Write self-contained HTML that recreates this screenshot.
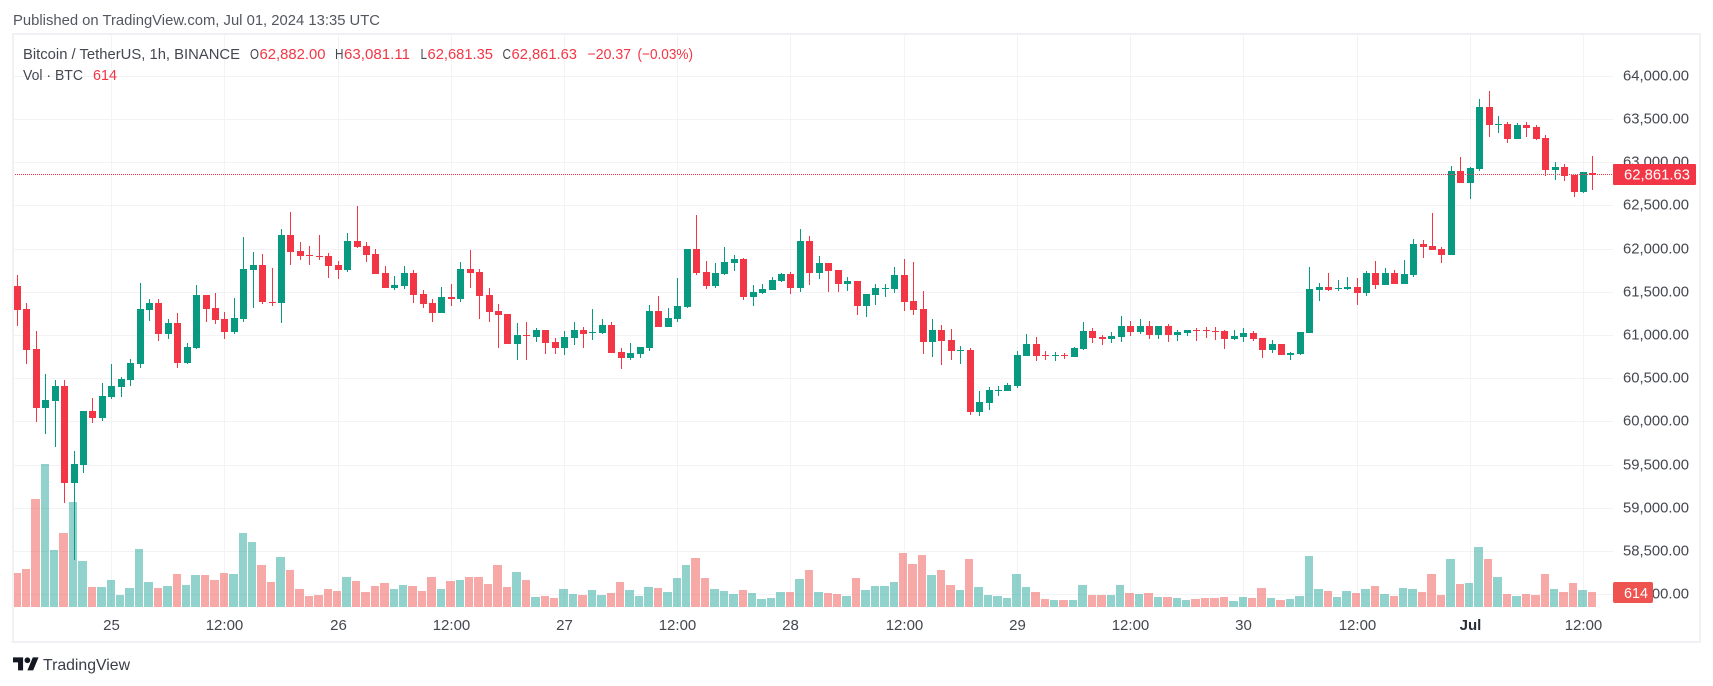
<!DOCTYPE html>
<html lang="en">
<head>
<meta charset="utf-8">
<title>BTC/USDT 1h chart</title>
<style>
html,body{margin:0;padding:0;background:#fff;width:1713px;height:686px;overflow:hidden}
svg{display:block}
text{font-family:"Liberation Sans",sans-serif;font-size:15px;fill:#44474f}
.val{fill:#f23645}
</style>
</head>
<body>
<svg id="chart" xmlns="http://www.w3.org/2000/svg" width="1713" height="686" viewBox="0 0 1713 686">
  <defs><clipPath id="pane-clip"><rect x="13" y="35" width="1600" height="572"/></clipPath></defs>
  <rect x="0" y="0" width="1713" height="686" fill="#fff"/>
  <text x="13" y="25" textLength="367" lengthAdjust="spacingAndGlyphs" style="fill:#54565f">Published on TradingView.com, Jul 01, 2024 13:35 UTC</text>
  <g id="grid"></g>
  <g id="volumes" clip-path="url(#pane-clip)"></g>
  <g id="candles" clip-path="url(#pane-clip)"></g>
  <line id="last-line" x1="13" x2="1613" stroke="#f23645" stroke-width="1" stroke-dasharray="1 1"/>
  <rect x="13" y="34" width="1687" height="608" fill="none" stroke="#f0f0f5" stroke-width="2"/>
  <g id="y-axis"></g>
  <g id="x-axis"></g>
  <g id="tags"></g>
  <g>
    <text x="23" y="59" textLength="217" lengthAdjust="spacingAndGlyphs">Bitcoin / TetherUS, 1h, BINANCE</text>
    <text x="250" y="59" textLength="9" lengthAdjust="spacingAndGlyphs">O</text>
    <text class="val" x="259.5" y="59" textLength="66" lengthAdjust="spacingAndGlyphs">62,882.00</text>
    <text x="335" y="59" textLength="8.5" lengthAdjust="spacingAndGlyphs">H</text>
    <text class="val" x="344" y="59" textLength="66" lengthAdjust="spacingAndGlyphs">63,081.11</text>
    <text x="420.5" y="59" textLength="6.5" lengthAdjust="spacingAndGlyphs">L</text>
    <text class="val" x="427.5" y="59" textLength="65.5" lengthAdjust="spacingAndGlyphs">62,681.35</text>
    <text x="502.5" y="59" textLength="8.5" lengthAdjust="spacingAndGlyphs">C</text>
    <text class="val" x="511.5" y="59" textLength="65.5" lengthAdjust="spacingAndGlyphs">62,861.63</text>
    <text class="val" x="587.5" y="59" textLength="43.5" lengthAdjust="spacingAndGlyphs">−20.37</text>
    <text class="val" x="637.5" y="59" textLength="55.5" lengthAdjust="spacingAndGlyphs">(−0.03%)</text>
    <text x="23" y="80" textLength="60" lengthAdjust="spacingAndGlyphs">Vol · BTC</text>
    <text class="val" x="93" y="80" textLength="24" lengthAdjust="spacingAndGlyphs">614</text>
  </g>
  <g>
    <g transform="translate(13,654.5) scale(0.72)" fill="#131722">
      <path d="M14 22H7V11H0V4h14v18zM28 22h-8l7.5-18h8L28 22z"/><circle cx="20" cy="8" r="4"/>
    </g>
    <text x="43" y="670" textLength="87" lengthAdjust="spacingAndGlyphs" style="font-size:16px;fill:#3a3d47">TradingView</text>
  </g>
</svg>
<script>
const opens=[61573,61307,60844,60160,60241,60416,59292,59501,60126,60045,
60288,60404,60485,60670,61295,61376,61018,61144,60682,60855,
61469,61318,61191,61041,61191,61758,61816,61388,61376,62163,
61977,61931,61920,61920,61816,61758,62094,62036,61943,61724,
61550,61573,61724,61481,61376,61260,61446,61423,61770,61735,
61469,61283,61249,60902,61006,60983,61064,60925,60855,60971,
61064,61029,61029,61121,60809,60739,60786,60855,61283,61099,
61191,61330,62001,61735,61573,61712,61839,61885,61446,61492,
61527,61630,61712,61550,62094,61724,61839,61758,61596,61630,
61342,61469,61538,61538,61700,61399,61307,60925,61064,60948,
60820,60832,60115,60218,60358,60358,60416,60762,60902,60774,
60762,60774,60751,60844,61052,60983,60960,60983,61110,61041,
61110,61006,61110,61006,61029,61064,61064,61052,61052,60960,
60983,61029,60971,60832,60902,60774,60786,61029,61527,61561,
61538,61538,61561,61492,61724,61584,61724,61596,61700,62059,
62036,62001,61931,62904,62765,62927,63645,63436,63448,63274,
63436,63413,63286,62915,62950,62858,62661,62882];
const highs=[61700,61376,61052,60555,60485,60485,59663,60126,60276,60450,
60670,60520,60728,61607,61423,61423,61191,61260,60913,61584,
61469,61492,61272,61434,62140,61966,61943,61781,62233,62429,
62082,62036,62163,61954,61862,62186,62499,62082,62001,61804,
61689,61804,61758,61527,61423,61561,61596,61851,61989,61770,
61550,61365,61249,61144,61156,61087,61064,60971,61052,61156,
61099,61307,61191,61156,60855,60913,60867,61353,61457,61318,
61665,62001,62394,61862,61839,62024,61931,61897,61584,61596,
61677,61724,61735,62233,62151,61920,61839,61758,61677,61630,
61481,61596,61596,61793,61885,61851,61515,61191,61121,61075,
60878,60855,60358,60404,60416,60450,60820,61018,60983,60820,
60809,60797,60867,61156,61087,61006,61041,61226,61167,61191,
61167,61110,61133,61064,61064,61087,61099,61099,61064,61064,
61087,61052,60971,60948,60902,60809,61041,61793,61607,61724,
61642,61677,61665,61747,61862,61781,61758,61874,62117,62105,
62418,62024,62962,63066,62950,63737,63830,63540,63471,63459,
63471,63436,63320,63008,62985,62858,62892,63081.11];
const lows=[61110,60670,59999,59860,59709,59061,58402,59408,59987,60010,
60265,60288,60416,60624,61167,60936,60960,60624,60670,60844,
61156,61133,60960,61018,61156,61318,61365,61342,61144,61816,
61874,61816,61874,61665,61653,61735,62013,61851,61712,61550,
61527,61538,61376,61318,61156,61260,61342,61388,61550,61191,
61156,60855,60902,60716,60716,60925,60786,60786,60774,60890,
60855,60948,61018,60797,60612,60716,60739,60820,61099,61099,
61156,61318,61700,61538,61550,61700,61747,61411,61342,61481,
61527,61619,61481,61504,61584,61653,61504,61504,61515,61237,
61214,61353,61446,61492,61283,61237,60786,60751,60658,60716,
60670,60080,60068,60138,60300,60358,60392,60762,60705,60716,
60705,60728,60751,60832,60913,60890,60913,60925,60995,61018,
60960,60960,60925,60936,60995,60936,60971,60948,60844,60948,
60925,60936,60739,60797,60774,60716,60774,61029,61399,61515,
61515,61527,61353,61457,61538,61584,61596,61596,61677,61897,
61989,61839,61931,62765,62580,62904,63297,63344,63228,63274,
63297,63263,62846,62800,62788,62603,62649,62681.35];
const closes=[61295,60832,60160,60253,60416,59292,59513,60126,60045,60300,
60416,60497,60682,61307,61376,61018,61144,60682,60867,61469,
61307,61179,61041,61203,61770,61816,61388,61376,62163,61966,
61920,61920,61908,61804,61758,62094,62024,61931,61712,61550,
61584,61724,61469,61365,61260,61446,61423,61770,61724,61457,
61272,61237,60902,61006,60995,61064,60913,60855,60983,61064,
61018,61041,61121,60797,60739,60797,60867,61283,61099,61203,
61342,62001,61724,61573,61724,61851,61885,61446,61504,61538,
61642,61712,61550,62094,61724,61839,61747,61596,61630,61342,
61481,61550,61550,61700,61388,61295,60925,61064,60936,60820,
60832,60115,60230,60369,60369,60427,60774,60902,60762,60762,
60774,60762,60855,61052,60971,60960,60995,61110,61041,61110,
61006,61110,61006,61041,61064,61052,61052,61041,60960,60995,
61029,60960,60832,60902,60774,60797,61041,61538,61561,61527,
61550,61561,61492,61724,61584,61724,61596,61712,62059,62024,
61989,61931,62904,62765,62939,63645,63436,63448,63274,63436,
63401,63274,62915,62950,62846,62661,62892,62861.63];
const volumes=[1394,1558,4428,5863,2337,3034,4305,1886,820,820,
1107,492,779,2378,1025,779,861,1353,902,1312,
1312,1107,1394,1353,3034,2665,1722,1025,2050,1517,
738,451,492,738,656,1230,1066,615,861,984,
738,902,861,656,1230,738,1066,1107,1230,1230,
943,1722,820,1435,1107,410,451,369,738,533,
492,697,492,574,1025,697,451,820,779,615,
1189,1722,2009,1189,738,656,533,697,574,328,
369,615,615,1148,1517,615,574,533,451,1189,
697,861,861,1025,2214,1763,2132,1312,1517,902,
697,1968,820,492,451,369,1353,820,615,328,
287,287,287,902,492,492,492,902,574,533,
574,410,410,369,287,328,369,369,410,246,
410,369,779,369,287,328,451,2091,738,656,
410,656,574,738,861,533,451,779,738,615,
1353,492,1968,943,984,2460,1968,1230,533,451,
533,492,1353,738,615,984,697,614];
const priceTicks=[64000,63500,63000,62500,62000,61500,61000,60500,60000,59500,59000,58500,58000];
const timeLabels=["25","12:00","26","12:00","27","12:00","28","12:00","29","12:00","30","12:00","Jul","12:00"];
const timeTickCandles=[10,22,34,46,58,70,82,94,106,118,130,142,154,166];

const SVGNS='http://www.w3.org/2000/svg';
const xScale=function(i){return 17.4+9.434*i;};
const yScale=function(p){return 76.3+(64000-p)*0.0864;};
const volHeight=function(v){return v/40.93;};
const VOL_BASE=607;
const fmt=function(p){return p.toLocaleString('en-US',{minimumFractionDigits:2,maximumFractionDigits:2});};
function mk(tag,parent){const e=document.createElementNS(SVGNS,tag);parent.appendChild(e);return e;}

const grid=document.getElementById('grid');
const yAxis=document.getElementById('y-axis');
const xAxis=document.getElementById('x-axis');
const volG=document.getElementById('volumes');
const candleG=document.getElementById('candles');
const tags=document.getElementById('tags');

priceTicks.forEach(function(p){
  const y=Math.floor(yScale(p));
  const line=mk('rect',grid);
  
  
  line.setAttribute('x',14);line.setAttribute('y',y);line.setAttribute('width',1599);line.setAttribute('height',1);
  line.setAttribute('fill','#f3f3f6');
  const t=mk('text',yAxis);
  
  
  t.setAttribute('x',1623);t.setAttribute('y',y+4.5);t.setAttribute('textLength',66);t.setAttribute('lengthAdjust','spacingAndGlyphs');
  t.textContent=fmt(p);
});

timeTickCandles.forEach(function(i,k){
  const x=Math.floor(xScale(i));
  const line=mk('rect',grid);
  
  
  line.setAttribute('x',x);line.setAttribute('y',35);line.setAttribute('width',1);line.setAttribute('height',572);
  line.setAttribute('fill','#f3f3f6');
  const t=mk('text',xAxis);
  
  
  t.setAttribute('x',x+0.5);t.setAttribute('y',630);t.setAttribute('text-anchor','middle');
  if(timeLabels[k]==='Jul'){t.setAttribute('font-weight','bold');t.style.fill='#2a2e39';}
  t.textContent=timeLabels[k];
});

volumes.forEach(function(v,i){
  const up=closes[i]>=opens[i];
  const left=Math.floor(xScale(i)-4.7);
  const right=Math.floor(xScale(i+1)-4.7)-1;
  const h=Math.round(volHeight(v));
  const r=mk('rect',volG);
  
  
  r.setAttribute('x',left);r.setAttribute('y',VOL_BASE-h);r.setAttribute('width',right-left);r.setAttribute('height',h);
  r.setAttribute('fill',up?'rgba(38,166,154,.5)':'rgba(239,83,80,.5)');
});

opens.forEach(function(o,i){
  const c=closes[i];
  const up=c>=o;
  const col=up?'#089981':'#f23645';
  const x=Math.floor(xScale(i));
  const wick=mk('rect',candleG);
  
  
  const wt=Math.round(yScale(highs[i])),wb=Math.round(yScale(lows[i]));
  wick.setAttribute('x',x);wick.setAttribute('y',wt);wick.setAttribute('width',1);wick.setAttribute('height',Math.max(1,wb-wt));
  wick.setAttribute('fill',col);
  const body=mk('rect',candleG);
  
  
  const bt=Math.round(yScale(Math.max(o,c))),bb=Math.round(yScale(Math.min(o,c)));
  body.setAttribute('x',x-3);body.setAttribute('y',bt);body.setAttribute('width',7);body.setAttribute('height',Math.max(1,bb-bt));
  body.setAttribute('fill',col);
});

const lastClose=closes[closes.length-1];
const lastVol=volumes[volumes.length-1];
const lastY=Math.floor(yScale(lastClose))+0.5;
const lastLine=document.getElementById('last-line');
lastLine.setAttribute('y1',lastY);
lastLine.setAttribute('y2',lastY);

const priceTag=mk('rect',tags);


priceTag.setAttribute('x',1613);priceTag.setAttribute('y',lastY-10.5);priceTag.setAttribute('width',83);priceTag.setAttribute('height',21);priceTag.setAttribute('rx',1);
priceTag.setAttribute('fill','#f23645');
const priceText=mk('text',tags);


priceText.setAttribute('x',1624);priceText.setAttribute('y',lastY+5);priceText.setAttribute('textLength',66);priceText.setAttribute('lengthAdjust','spacingAndGlyphs');
priceText.style.fill='#fff';
priceText.textContent=fmt(lastClose);

const volTop=VOL_BASE-volHeight(lastVol);
const volTag=mk('rect',tags);


volTag.setAttribute('x',1613);volTag.setAttribute('y',Math.round(volTop)-10);volTag.setAttribute('width',40);volTag.setAttribute('height',21);volTag.setAttribute('rx',2);
volTag.setAttribute('fill','#ef5350');
const volText=mk('text',tags);


volText.setAttribute('x',1624);volText.setAttribute('y',Math.round(volTop)+6);volText.setAttribute('textLength',24);volText.setAttribute('lengthAdjust','spacingAndGlyphs');
volText.style.fill='#fff';
volText.textContent=String(lastVol);
</script>
</body>
</html>
